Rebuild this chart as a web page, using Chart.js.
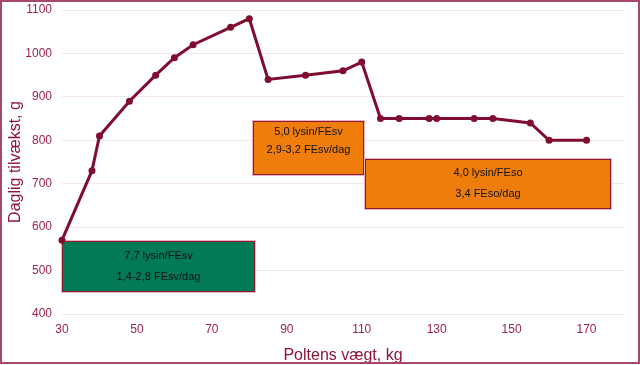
<!DOCTYPE html>
<html>
<head>
<meta charset="utf-8">
<script src="https://cdn.jsdelivr.net/npm/chart.js@4.4.1/dist/chart.umd.min.js"></script>
<style>
  html, body { margin: 0; padding: 0; background: #ffffff; }
  #wrap { position: relative; width: 640px; height: 365px; }
</style>
</head>
<body>
<div id="wrap"><canvas id="c" width="640" height="365"></canvas></div>
<script>
// ---- data ----
const weightKg = [30, 38, 40, 48, 55, 60, 65, 75, 80, 85, 95, 105, 110, 115, 120, 128, 130, 140, 145, 155, 160, 170];
const dailyGain = [570, 730, 810, 890, 950, 990, 1020, 1060, 1080, 940, 950, 960, 980, 850, 850, 850, 850, 850, 850, 840, 800, 800];
const xTickValues = [30, 50, 70, 90, 110, 130, 150, 170];

// feeding-phase boxes (in data units)
const boxXStart = [30, 81, 111];
const boxXEnd = [81.5, 110.5, 176.5];
const boxYLow = [451, 720, 641];
const boxYHigh = [568, 845, 756];
const boxLine1 = ['7,7 lysin/FEsv', '5,0 lysin/FEsv', '4,0 lysin/FEso'];
const boxLine2 = ['1,4-2,8 FEsv/dag', '2,9-3,2 FEsv/dag', '3,4 FEso/dag'];

// ---- styles ----
const boxFill = ['#027a55', '#ee7d0b', '#ee7d0b'];
const boxTextOffsets = [[15, 36], [11, 29], [14, 35]];
const lineColor = '#800d2f';

const boxPlugin = {
  id: 'boxes',
  beforeDatasetsDraw(chart) {
    const ctx = chart.ctx;
    const xs = chart.scales.x, ys = chart.scales.y;
    ctx.save();
    for (let i = 0; i < boxXStart.length; i++) {
      const x0 = Math.round(xs.getPixelForValue(boxXStart[i]));
      const x1 = Math.round(xs.getPixelForValue(boxXEnd[i]));
      const y0 = Math.round(ys.getPixelForValue(boxYHigh[i]));
      const y1 = Math.round(ys.getPixelForValue(boxYLow[i]));
      ctx.strokeStyle = '#e8b4c4';
      ctx.lineWidth = 1;
      ctx.strokeRect(x0 - 0.5, y0 - 0.5, x1 - x0 + 1, y1 - y0 + 1);
      ctx.fillStyle = boxFill[i];
      ctx.fillRect(x0, y0, x1 - x0, y1 - y0);
      ctx.strokeStyle = '#8e1a30';
      ctx.lineWidth = 1;
      ctx.strokeRect(x0 + 0.5, y0 + 0.5, x1 - x0 - 1, y1 - y0 - 1);
      ctx.fillStyle = '#111111';
      ctx.font = '11px "Liberation Sans", Arial, sans-serif';
      ctx.textAlign = 'center';
      ctx.textBaseline = 'middle';
      const cx = (x0 + x1) / 2;
      ctx.fillText(boxLine1[i], cx, y0 + boxTextOffsets[i][0]);
      ctx.fillText(boxLine2[i], cx, y0 + boxTextOffsets[i][1]);
    }
    ctx.restore();
  },
  afterDraw(chart) {
    const ctx = chart.ctx;
    ctx.save();
    ctx.strokeStyle = '#a84868';
    ctx.lineWidth = 2;
    ctx.strokeRect(1, 1, 638, 362);
    ctx.restore();
  }
};

new Chart(document.getElementById('c'), {
  type: 'line',
  data: {
    datasets: [{
      data: weightKg.map((w, i) => ({ x: w, y: dailyGain[i] })),
      borderColor: lineColor,
      backgroundColor: lineColor,
      borderWidth: 3,
      pointRadius: 3.5,
      pointBackgroundColor: lineColor,
      pointBorderWidth: 0,
      tension: 0,
      clip: false
    }]
  },
  options: {
    responsive: false,
    animation: false,
    devicePixelRatio: 1,
    layout: { autoPadding: false, padding: { left: 0, right: 16, top: 10, bottom: 0 } },
    plugins: { legend: { display: false }, tooltip: { enabled: false } },
    scales: {
      x: {
        type: 'linear',
        min: 30,
        max: 180,
        afterBuildTicks(scale) { scale.ticks = xTickValues.map(v => ({ value: v })); },
        afterFit(scale) { scale.height = 51; scale.paddingLeft = 0; scale.paddingRight = 0; },
        grid: { display: false, drawTicks: false },
        border: { display: false },
        ticks: {
          color: '#9c2248',
          font: { family: '"Liberation Sans", Arial, sans-serif', size: 12 },
          padding: 8,
          maxRotation: 0,
          autoSkip: false,
          callback: v => String(v)
        },
        title: {
          display: true,
          text: 'Poltens vægt, kg',
          color: '#8e1538',
          font: { family: '"Liberation Sans", Arial, sans-serif', size: 16 },
          padding: { top: 0, bottom: 0 }
        }
      },
      y: {
        min: 400,
        max: 1100,
        afterFit(scale) { scale.width = 62; scale.paddingTop = 0; scale.paddingBottom = 0; },
        grid: { color: '#f4e6eb', lineWidth: 1, drawTicks: false },
        border: { display: false },
        ticks: {
          stepSize: 100,
          color: '#9c2248',
          font: { family: '"Liberation Sans", Arial, sans-serif', size: 12 },
          padding: 10,
          callback: v => String(v)
        },
        title: {
          display: true,
          text: 'Daglig tilvækst, g',
          color: '#8e1538',
          font: { family: '"Liberation Sans", Arial, sans-serif', size: 16 },
          padding: { top: 6, bottom: 6 }
        }
      }
    }
  },
  plugins: [boxPlugin]
});
</script>
</body>
</html>
